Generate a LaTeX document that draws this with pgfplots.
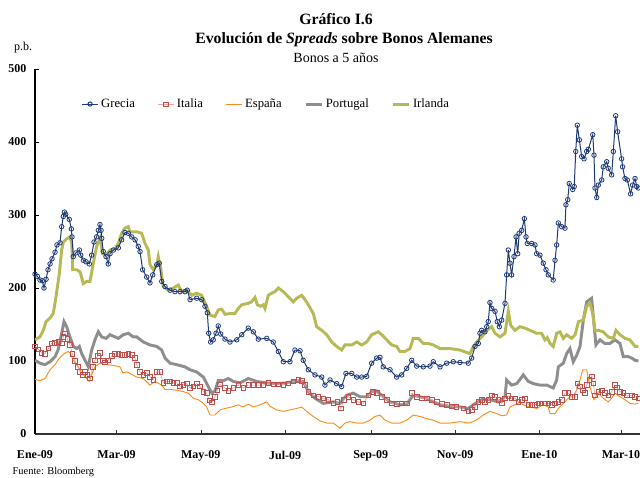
\documentclass[border=0pt]{standalone}
\usepackage{fontspec}
\setmainfont{Liberation Serif}
\usepackage{pgfplots}
\pgfplotsset{compat=1.18}
\definecolor{grecia}{HTML}{1F3A78}
\definecolor{italia}{HTML}{C0504D}
\definecolor{italialine}{HTML}{E6A3A3}
\definecolor{espana}{HTML}{FF8C1A}
\definecolor{portugal}{HTML}{8E8E8E}
\definecolor{irlanda}{HTML}{B7B955}
\begin{document}
\begin{tikzpicture}[x=0.75pt,y=0.75pt]
\path[use as bounding box] (0,0) rectangle (640,-478);
\node[font=\bfseries\fontsize{11.8}{13}\selectfont] at (336,-19) {Gráfico I.6};
\node[font=\bfseries\fontsize{11.8}{13}\selectfont] at (344,-40) {Evolución de \textit{Spreads} sobre Bonos Alemanes};
\node[font=\fontsize{10.5}{12}\selectfont] at (336,-58) {Bonos a 5 años};
\node[font=\fontsize{9}{11}\selectfont] at (23,-48) {p.b.};
\node[font=\fontsize{7.8}{9}\selectfont,anchor=west] at (8,-472) {Fuente: Bloomberg};
\begin{axis}[
 at={(26.25pt,-325.5pt)}, anchor=south west,
 scale only axis, width=453.75pt, height=273.75pt,
 xmin=0, xmax=437.8, ymin=0, ymax=500,
 axis lines=left, axis line style={-},
 x axis line style={draw=black!80, line width=0.8pt},
 y axis line style={draw=black, line width=0.8pt},
 tick align=inside, major tick length=3pt,
 xtick={0,59,120,181,243,304,365,424},
 xticklabels={Ene-09,Mar-09,May-09,Jul-09,Sep-09,Nov-09,Ene-10,Mar-10},
 ytick={0,100,200,300,400,500},
 yticklabels={0,100,200,300,400,500},
 tick label style={font=\bfseries\fontsize{9}{11}\selectfont},
 xticklabel style={yshift=-9pt},
 yticklabel style={xshift=-3pt},
 x tick style={draw=black!80}, y tick style={draw=black},
 legend image code/.code={\draw[mark repeat=2,mark phase=2,#1] plot coordinates {(0cm,0cm) (0.21cm,0cm) (0.42cm,0cm)};},
 legend style={at={(0.07,0.904)}, anchor=west, draw=none, fill=none,
   font=\fontsize{9.5}{11}\selectfont,
   /tikz/every even column/.append style={column sep=15pt}},
 legend columns=5,
]
\addlegendimage{grecia, line width=0.75pt, mark=o, mark size=1.6pt}
\addlegendentry{Grecia}
\addlegendimage{italialine, line width=0.5pt, mark=square, mark size=1.6pt, mark options={draw=italia}}
\addlegendentry{Italia}
\addlegendimage{espana, line width=0.7pt}
\addlegendentry{España}
\addlegendimage{portugal, line width=2.2pt}
\addlegendentry{Portugal}
\addlegendimage{irlanda, line width=2.2pt}
\addlegendentry{Irlanda}

% Portugal
\addplot[portugal, line width=2.2pt, forget plot] coordinates {
(0.0,101) (3.6,97) (7.2,95) (10.9,99) (14.5,106) (16.9,116) (19.3,138) (21.0,154) (22.9,147) (25.3,133)
(27.7,120) (30.2,117) (32.1,120) (33.8,110) (36.2,101) (38.6,92) (41.0,115) (43.4,129) (45.8,140) (48.3,133)
(51.4,131) (54.3,136) (57.9,133) (60.3,131) (63.9,136) (67.5,138) (71.1,133) (73.6,133) (78.4,126) (83.2,122)
(88.1,120) (91.7,115) (94.1,104) (97.7,97) (102.5,95) (108.5,92) (112.2,88) (117.0,85) (121.8,78) (125.4,65)
(127.9,56) (130.2,59) (132.6,73) (136.3,73) (139.9,76) (143.5,72) (148.3,70) (154.3,76) (160.4,72) (167.7,70)
(174.9,69) (182.1,70) (189.4,73) (194.1,72) (197.8,58) (202.6,49) (208.6,42) (215.9,44) (220.7,42) (225.5,53)
(230.3,56) (235.2,51) (240.0,51) (243.6,58) (247.3,59) (252.0,51) (256.9,44) (264.1,40) (269.0,41) (273.7,53)
(278.6,51) (283.4,49) (288.2,44) (293.1,40) (300.3,38) (307.5,37) (313.5,35) (317.2,40) (323.2,47) (329.2,47)
(335.3,44) (340.1,51) (341.3,74) (344.9,67) (348.6,69) (352.2,78) (353.3,81) (357.0,72) (360.6,69) (365.4,67)
(370.3,67) (375.0,63) (377.5,74) (378.7,92) (382.3,97) (384.7,110) (387.1,117) (389.5,99) (392.0,108) (394.4,120)
(396.8,156) (399.2,181) (402.8,186) (404.0,161) (405.9,122) (408.8,129) (412.4,124) (416.0,124) (419.7,129) (423.3,124)
(425.7,106) (429.3,106) (431.8,104) (434.2,101) (436.6,100)
};
% Irlanda
\addplot[irlanda, line width=2.2pt, forget plot] coordinates {
(0.0,129) (3.6,133) (6.0,142) (8.0,154) (10.9,159) (13.2,165) (15.2,188) (17.6,220) (19.3,252) (20.5,263)
(23.4,268) (25.3,270) (26.6,261) (27.3,225) (30.2,225) (32.6,222) (35.0,206) (37.4,209) (39.8,209) (42.2,234)
(44.6,257) (47.0,268) (49.0,247) (51.4,245) (54.3,252) (57.9,254) (60.3,261) (62.7,275) (65.1,282) (67.5,284)
(68.7,277) (73.6,277) (77.2,275) (79.6,261) (82.0,252) (83.2,232) (85.6,225) (88.1,232) (89.2,243) (91.0,227)
(92.8,202) (96.5,197) (100.1,200) (103.7,204) (106.2,195) (109.8,197) (113.4,190) (117.0,193) (120.6,190) (123.7,177)
(126.6,163) (130.2,161) (132.6,170) (135.1,171) (137.5,164) (141.1,165) (144.7,165) (147.1,172) (149.6,177) (154.3,179)
(156.8,181) (159.2,187) (160.9,177) (163.3,175) (165.2,177) (166.4,172) (168.8,190) (171.3,193) (173.7,195) (176.1,200)
(179.7,195) (183.3,188) (186.9,181) (189.4,186) (193.0,190) (195.4,184) (197.8,177) (201.4,165) (203.8,147) (207.5,142)
(211.1,136) (214.7,126) (218.3,120) (221.9,115) (224.3,122) (229.2,122) (232.8,126) (236.4,122) (240.0,126) (243.6,136)
(248.4,140) (250.9,136) (254.5,129) (258.1,122) (261.7,120) (264.1,113) (267.7,113) (271.4,117) (273.7,131) (277.4,131)
(281.0,124) (284.6,124) (288.2,122) (293.1,117) (300.3,117) (307.5,115) (314.8,110) (317.2,120) (319.6,126) (323.2,133)
(326.9,142) (330.5,147) (332.9,138) (336.5,133) (340.1,138) (342.5,168) (344.2,149) (347.3,142) (350.9,147) (354.6,145)
(358.2,142) (363.0,138) (366.6,138) (369.0,129) (370.7,132) (372.7,124) (375.0,120) (377.5,138) (379.9,140) (382.3,131)
(384.7,136) (388.4,131) (390.8,136) (393.3,154) (396.8,156) (399.2,175) (401.6,179) (403.6,165) (405.2,142) (407.6,142)
(411.2,140) (414.8,133) (418.5,131) (420.4,142) (423.3,136) (426.9,131) (430.5,129) (434.2,120) (436.6,120)
};
% España
\addplot[espana, line width=0.7pt, forget plot] coordinates {
(0.0,75) (3.6,73) (7.2,76) (10.9,88) (14.5,95) (16.9,102) (19.3,107) (21.7,111) (24.1,113) (25.8,110)
(27.7,101) (30.2,95) (32.6,88) (35.0,81) (37.4,76) (39.3,72) (41.0,81) (43.4,92) (47.0,97) (51.9,95)
(56.7,94) (61.5,92) (63.5,84) (66.4,85) (68.7,83) (73.6,78) (78.4,76) (83.2,67) (86.8,72) (91.7,67)
(94.1,61) (97.7,61) (102.5,60) (107.3,58) (110.9,56) (114.5,49) (118.2,47) (121.8,42) (124.2,37) (126.6,26)
(130.2,26) (133.9,33) (137.5,35) (142.3,37) (147.1,40) (150.7,37) (154.3,41) (158.0,37) (162.8,40) (167.7,44)
(170.0,38) (174.9,33) (179.7,31) (184.5,33) (189.4,35) (193.0,37) (196.6,31) (201.4,24) (206.2,18) (211.1,15)
(215.9,15) (220.7,8) (224.3,15) (227.9,17) (232.8,15) (237.6,15) (242.4,19) (246.0,24) (249.6,26) (253.3,19)
(258.1,15) (264.1,15) (269.0,19) (273.7,26) (278.6,24) (283.4,21) (288.2,19) (293.1,15) (300.3,15) (307.5,17)
(313.5,15) (317.2,17) (320.8,21) (324.4,26) (329.2,31) (334.1,28) (337.7,25) (341.3,26) (343.7,37) (347.3,40)
(350.9,44) (353.3,40) (358.2,37) (363.0,35) (367.8,40) (371.4,37) (372.7,28) (376.3,28) (378.7,35) (382.3,42)
(385.9,49) (389.5,53) (392.0,60) (394.4,74) (396.3,88) (399.2,88) (401.1,69) (402.8,56) (404.5,47) (407.6,56)
(411.2,49) (414.8,44) (417.3,49) (419.7,56) (423.3,51) (426.9,47) (430.5,42) (434.2,41) (436.6,42)
};
% Italia
\addplot[italialine, line width=0.5pt, mark=square, mark size=1.7pt, mark options={draw=italia, line width=0.6pt}, forget plot] coordinates {
(0.0,120) (2.4,116) (4.8,111) (7.2,110) (9.6,117) (12.1,124) (14.5,125) (16.9,126) (19.3,124) (20.5,133)
(21.7,138) (23.4,130) (25.3,122) (27.0,110) (28.9,100) (30.9,92) (32.6,85) (34.5,81) (36.2,85) (37.8,81)
(39.8,76) (41.8,92) (43.4,101) (45.4,107) (47.0,111) (49.0,101) (50.7,98) (53.0,101) (55.5,107) (57.9,110)
(60.3,110) (62.7,108) (65.1,108) (67.5,110) (70.0,108) (72.4,104) (73.6,95) (76.0,85) (78.4,81) (80.8,84)
(83.2,78) (85.6,74) (88.1,85) (90.5,85) (92.8,70) (95.3,72) (97.7,72) (100.1,70) (102.5,70) (104.9,65)
(107.3,67) (109.8,69) (112.2,63) (114.5,65) (117.0,69) (119.4,65) (121.8,58) (124.2,56) (126.1,46) (127.9,43)
(130.2,51) (131.9,60) (133.9,68) (137.5,63) (139.9,59) (143.5,63) (147.1,67) (150.7,63) (154.3,67) (158.0,67)
(161.6,67) (165.2,67) (168.8,70) (172.4,68) (176.1,68) (179.7,67) (183.3,69) (186.9,72) (190.5,74) (193.0,73)
(195.4,67) (197.8,58) (201.4,53) (205.0,51) (208.6,49) (212.2,47) (215.9,42) (218.7,44) (221.2,35) (223.6,47)
(226.7,51) (230.3,47) (233.9,44) (237.6,42) (241.2,53) (244.4,58) (247.3,56) (250.9,51) (254.5,47) (258.1,42)
(261.7,41) (265.3,42) (269.0,42) (272.6,56) (276.2,51) (279.8,49) (283.4,49) (287.1,47) (290.7,44) (294.3,41)
(297.9,40) (301.5,38) (305.1,37) (309.9,35) (313.5,31) (316.0,33) (318.4,37) (320.8,44) (323.2,47) (325.6,44)
(328.0,47) (330.5,53) (332.9,51) (335.3,47) (337.7,42) (340.1,49) (342.5,52) (344.9,49) (347.3,49) (349.7,44)
(352.2,47) (354.6,49) (357.0,40) (359.4,40) (361.8,40) (364.2,42) (366.6,42) (369.0,42) (371.4,42) (373.9,40)
(376.3,42) (378.7,44) (381.1,47) (383.5,56) (385.9,56) (388.4,51) (390.8,51) (392.4,69) (394.4,65) (396.3,60)
(398.0,56) (399.2,67) (401.1,74) (402.8,79) (404.0,69) (405.2,53) (407.6,58) (410.1,60) (412.4,56) (414.8,53)
(417.3,58) (419.7,67) (420.9,64) (423.3,58) (425.7,56) (428.2,53) (431.8,53) (434.2,51) (436.6,49)
};
% Grecia
\addplot[grecia, line width=0.75pt, mark=o, mark size=1.7pt, mark options={line width=0.6pt}, forget plot] coordinates {
(0.0,219) (1.7,216) (3.6,211) (5.3,210) (6.5,200) (8.0,212) (9.4,225) (10.9,233) (12.3,240) (14.5,249)
(15.9,259) (18.1,262) (19.3,284) (20.5,298) (21.3,304) (22.2,301) (24.8,294) (26.3,281) (26.8,270) (27.7,243)
(29.5,248) (32.1,252) (33.1,245) (35.0,238) (36.9,236) (39.3,233) (41.0,245) (42.7,263) (44.6,270) (45.8,279)
(47.0,287) (47.8,279) (48.3,268) (49.4,250) (51.4,243) (53.0,233) (54.3,247) (56.7,252) (60.3,255) (62.7,266)
(65.1,276) (67.5,275) (70.0,270) (72.4,266) (74.7,257) (76.0,250) (77.9,225) (80.8,215) (83.2,207) (85.2,218)
(88.1,232) (89.9,234) (91.7,209) (94.1,202) (97.7,197) (101.3,195) (105.0,195) (108.5,195) (110.2,197) (112.2,184)
(117.0,186) (120.6,184) (123.0,175) (124.7,166) (125.7,138) (127.1,126) (129.0,129) (131.0,138) (132.6,148) (134.4,137)
(137.5,130) (141.1,126) (146.0,129) (149.6,136) (154.3,145) (158.0,140) (161.6,130) (167.7,131) (172.4,126) (176.1,113)
(179.7,99) (184.5,99) (188.1,115) (191.8,114) (194.1,101) (197.8,88) (202.6,81) (207.5,78) (209.8,67) (213.5,74)
(218.3,69) (221.9,65) (225.0,83) (229.2,83) (232.8,78) (236.4,78) (240.0,79) (243.6,97) (247.3,104) (249.6,105)
(252.0,92) (256.9,88) (261.7,78) (265.3,81) (269.0,90) (272.6,101) (276.2,93) (281.0,92) (285.8,93) (288.2,99)
(293.1,92) (297.9,97) (302.7,99) (307.5,98) (313.5,97) (316.0,104) (318.4,120) (320.8,124) (322.0,138) (323.2,142)
(325.6,140) (326.9,147) (328.0,154) (329.2,180) (330.5,172) (332.9,168) (334.5,154) (336.0,147) (337.7,156) (340.1,179)
(341.3,218) (342.5,252) (343.7,234) (344.9,218) (346.6,243) (348.1,270) (349.3,247) (350.4,275) (352.2,279) (354.1,295)
(355.3,270) (356.2,261) (359.4,261) (361.8,259) (363.0,247) (365.4,245) (367.8,234) (369.8,225) (371.4,218) (375.0,211)
(376.3,238) (377.5,259) (378.7,289) (381.1,284) (383.5,282) (384.2,314) (385.5,321) (386.6,343) (389.1,335) (390.2,339)
(391.3,387) (392.4,423) (393.9,403) (395.6,380) (397.3,377) (399.2,387) (400.4,390) (403.6,410) (404.5,382) (405.2,337)
(406.5,324) (407.6,341) (410.1,348) (411.2,366) (413.7,373) (414.8,364) (417.3,355) (418.5,387) (420.2,436) (421.6,414)
(424.5,377) (425.2,366) (426.9,350) (428.6,348) (431.0,329) (432.5,341) (434.2,350) (435.4,339) (436.6,337)
};
\end{axis}
\end{tikzpicture}
\end{document}
